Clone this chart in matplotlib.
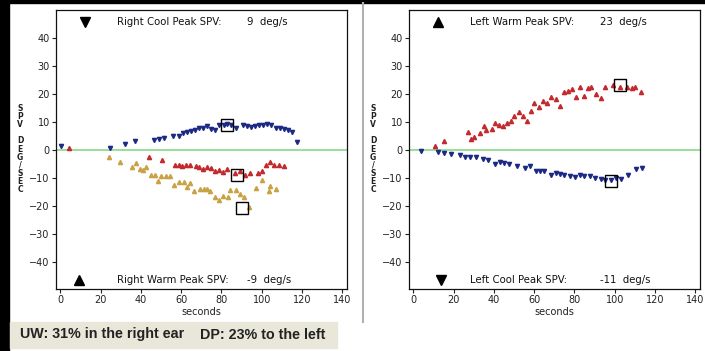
#! /usr/bin/env python3

#Draw the caloric test slow phase velocity plots for both ears.

import numpy as np
import matplotlib
matplotlib.use('Agg')
import matplotlib.pyplot as plt

#Right ear, cool irrigation (beats plotted as down triangles).
rCoolT = [0.3, 24.8, 32.3, 36.9, 46.7, 48.8, 51.3, 56.0, 58.8, 60.9, 62.9, 64.9, 67.0, 69.0,
          70.8, 72.8, 74.8, 77.0, 78.9, 81.1, 82.9, 84.9, 87.0, 90.7, 92.7, 94.7, 96.8, 98.8,
          100.9, 102.6, 104.6, 106.9, 108.9, 111.2, 112.9, 114.9, 117.8]
rCoolV = [1.2, 0.8, 2.1, 3.1, 3.6, 3.8, 4.2, 4.9, 5.0, 5.9, 6.3, 6.8, 7.1, 7.6,
          7.7, 8.4, 7.4, 6.9, 8.7, 8.7, 9.1, 8.8, 7.7, 8.7, 8.5, 8.2, 8.4, 8.7,
          9.0, 9.2, 8.7, 7.9, 7.7, 7.4, 7.0, 6.2, 2.7]

#Right ear, warm irrigation.
rWarmT = [4.3, 44.0, 50.5, 57.0, 58.7, 60.6, 62.6, 64.5, 67.5, 69.1, 70.9, 72.8, 74.6,
          77.0, 78.7, 80.8, 82.7, 86.9, 89.0, 91.5, 94.0, 98.0, 100.2, 102.3, 104.3,
          105.9, 108.4, 110.9]
rWarmV = [0.8, -2.6, -3.8, -5.3, -5.6, -5.9, -5.6, -5.3, -5.9, -6.3, -6.8, -6.2, -6.6,
          -7.6, -7.1, -7.9, -6.9, -8.1, -7.7, -8.9, -8.3, -8.3, -7.6, -5.6, -4.2,
          -5.3, -5.3, -5.9]

#Right ear, second warm run.
rWarm2T = [24.3, 29.8, 35.6, 37.6, 39.4, 41.1, 42.6, 45.0, 46.8, 48.3, 50.1, 52.4, 54.6,
           56.6, 59.1, 61.2, 62.9, 64.5, 66.2, 69.5, 71.2, 72.8, 74.5, 77.0, 79.0, 80.8,
           83.3, 84.4, 87.0, 89.0, 91.0, 93.5, 97.2, 100.1, 103.4, 104.1, 107.0]
rWarm2V = [-2.4, -4.5, -6.2, -4.7, -6.9, -7.1, -6.2, -8.9, -8.9, -11.3, -9.3, -9.5, -9.3,
           -12.5, -11.6, -11.6, -13.3, -11.9, -14.8, -13.9, -13.9, -13.9, -14.8, -16.8, -18.0, -16.6,
           -16.8, -14.2, -14.5, -15.8, -16.8, -20.5, -13.6, -10.9, -14.8, -13.0, -13.9]

#Left ear, warm irrigation.
lWarmT = [10.8, 15.3, 26.9, 28.6, 30.2, 33.3, 35.3, 36.3, 39.0, 40.7, 42.4, 44.3, 46.3,
          48.5, 50.2, 52.5, 54.3, 56.5, 58.5, 60.1, 62.3, 64.3, 66.5, 68.5, 70.6, 72.6,
          74.6, 76.7, 78.9, 80.9, 82.9, 84.6, 86.7, 88.4, 90.9, 93.0, 95.0, 99.1, 102.5,
          106.3, 108.6, 110.3, 113.3]
lWarmV = [1.5, 3.3, 6.2, 3.8, 4.5, 5.9, 8.5, 6.9, 7.4, 9.7, 8.9, 8.5, 9.7,
          10.1, 11.9, 13.6, 11.9, 10.1, 13.9, 16.6, 15.4, 17.5, 16.8, 18.7, 18.0, 15.7,
          20.7, 21.1, 21.6, 18.7, 22.3, 19.2, 22.1, 22.5, 19.9, 18.4, 22.2, 23.1, 22.3,
          22.5, 22.0, 22.3, 20.5]

#Left ear, cool irrigation.
lCoolT = [4.0, 12.0, 15.0, 18.9, 23.3, 25.6, 28.3, 31.1, 34.4, 37.2, 40.7, 43.0, 45.2,
          47.7, 51.5, 55.2, 57.7, 61.0, 63.0, 65.1, 68.5, 70.6, 72.6, 74.7, 77.6, 80.1,
          82.6, 85.0, 87.5, 90.4, 93.0, 95.4, 98.4, 100.8, 103.3, 106.6, 110.5, 113.6]
lCoolV = [-0.6, -0.9, -1.2, -1.4, -2.0, -2.4, -2.6, -2.6, -3.2, -3.6, -5.0, -4.5, -4.7,
          -5.1, -5.9, -6.5, -5.7, -7.7, -7.4, -7.7, -8.9, -8.3, -8.5, -9.1, -9.5, -9.8,
          -9.1, -9.5, -9.5, -10.1, -10.4, -10.9, -10.7, -10.2, -10.4, -8.9, -6.9, -6.5]

#Peak boxes (time, value) and the stated peak SPVs.
peaks = {'rCool': (83.0, 9.0), 'rWarm': (87.7, -9.0), 'rWarm2': (90.4, -20.8),
         'lWarm': (102.4, 23.0), 'lCool': (98.0, -11.0)}
peakText = {'rCool': 9, 'rWarm': -9, 'lWarm': 23, 'lCool': -11}

uwText = 'UW: 31% in the right ear'
dpText = 'DP: 23% to the left'

blue = '#1c2a84'
red = '#c22a2e'
gold = '#c9a245'

##################################################################################

def setupAxes(ax) :

  ax.set_xlim(-2.2, 142.4)
  ax.set_ylim(-49.6, 49.8)
  ax.set_xticks(np.arange(0, 141, 20))
  ax.set_yticks(np.arange(-40, 41, 10))
  ax.tick_params(labelsize = 7, length = 3, width = 0.8, pad = 1.5, colors = '#222222')
  for s in ax.spines.values() :
    s.set_linewidth(0.9)
    s.set_color('#111111')
  #End of for loop

  ax.axhline(0, color = '#7fd47f', lw = 1.1, zorder = 1)
  ax.set_xlabel('seconds', fontsize = 7, labelpad = 1, color = '#222222')
#End of the function setupAxes

##################################################################################

def peakLabel(ax, x, y, marker, label, value) :

  ax.plot([x], [y], marker = marker, color = 'black', ms = 7, ls = 'none',
          transform = ax.transAxes, clip_on = False)
  ax.text(0.21, y, label, transform = ax.transAxes, fontsize = 7.3, va = 'center',
          color = '#111111')
  ax.text(0.655, y, '%d  deg/s' % value, transform = ax.transAxes, fontsize = 7.3,
          va = 'center', ha = 'left', color = '#111111')
#End of the function peakLabel

##################################################################################

def main() :

  fig = plt.figure(figsize = (7.05, 3.51), dpi = 100)
  fig.patch.set_facecolor('white')

  #Black frame along the top and left edge.
  fig.patches.append(plt.Rectangle((0, 0), 9/705, 1, transform = fig.transFigure,
                                   color = 'black', zorder = 0))
  fig.patches.append(plt.Rectangle((0, 1 - 3/351), 1, 3/351, transform = fig.transFigure,
                                   color = 'black', zorder = 0))
  #Gray separator between the two ears.
  fig.add_artist(plt.Line2D([363/705, 363/705], [1 - 322/351, 1 - 3/351],
                            transform = fig.transFigure, color = '#b0b0b0', lw = 1.5))

  axL = fig.add_axes([56/705, 1 - 289/351, 291/705, 279/351])
  axR = fig.add_axes([409/705, 1 - 289/351, 291/705, 279/351])

  for ax in (axL, axR) :
    setupAxes(ax)

  ms = 3.0

  #Right ear.
  axL.plot(rCoolT, rCoolV, 'v', color = blue, ms = ms, zorder = 3)
  axL.plot(rWarmT, rWarmV, '^', color = red, ms = ms, zorder = 3)
  axL.plot(rWarm2T, rWarm2V, '^', color = gold, ms = ms, zorder = 3)
  for k in ('rCool', 'rWarm', 'rWarm2') :
    axL.plot(*peaks[k], 's', mfc = 'none', mec = 'black', ms = 8.5, mew = 1, zorder = 4)

  peakLabel(axL, 0.1, 0.958, 'v', 'Right Cool Peak SPV:', peakText['rCool'])
  peakLabel(axL, 0.08, 0.034, '^', 'Right Warm Peak SPV:', peakText['rWarm'])

  #Left ear.
  axR.plot(lWarmT, lWarmV, '^', color = red, ms = ms, zorder = 3)
  axR.plot(lCoolT, lCoolV, 'v', color = blue, ms = ms, zorder = 3)
  for k in ('lWarm', 'lCool') :
    axR.plot(*peaks[k], 's', mfc = 'none', mec = 'black', ms = 8.5, mew = 1, zorder = 4)

  peakLabel(axR, 0.1, 0.958, '^', 'Left Warm Peak SPV:', peakText['lWarm'])
  peakLabel(axR, 0.11, 0.034, 'v', 'Left Cool Peak SPV:', peakText['lCool'])

  #Stacked y axis labels.
  yLab = 'S\nP\nV\n\nD\nE\nG\n/\nS\nE\nC'
  for xp in (20, 373) :
    fig.text(xp/705, 1 - 149/351, yLab, fontsize = 5.5, fontweight = 'bold',
             ha = 'center', va = 'center', linespacing = 0.86, color = '#222222')

  #Summary box under the right ear.
  fig.patches.append(plt.Rectangle((10/705, 1 - 348/351), 327/705, 26/351,
                                   transform = fig.transFigure, color = '#e9e7d9', zorder = 0))
  fig.text(20/705, 1 - 334/351, uwText, fontsize = 10.3, fontweight = 'bold',
           family = 'Liberation Sans', va = 'center', color = '#222222')
  fig.text(200/705, 1 - 335/351, dpText, fontsize = 10.3, fontweight = 'bold',
           family = 'Liberation Sans', va = 'center', color = '#222222')

  fig.savefig('out.png', dpi = 100)
#End of the function main

if __name__ == '__main__':
  main()
